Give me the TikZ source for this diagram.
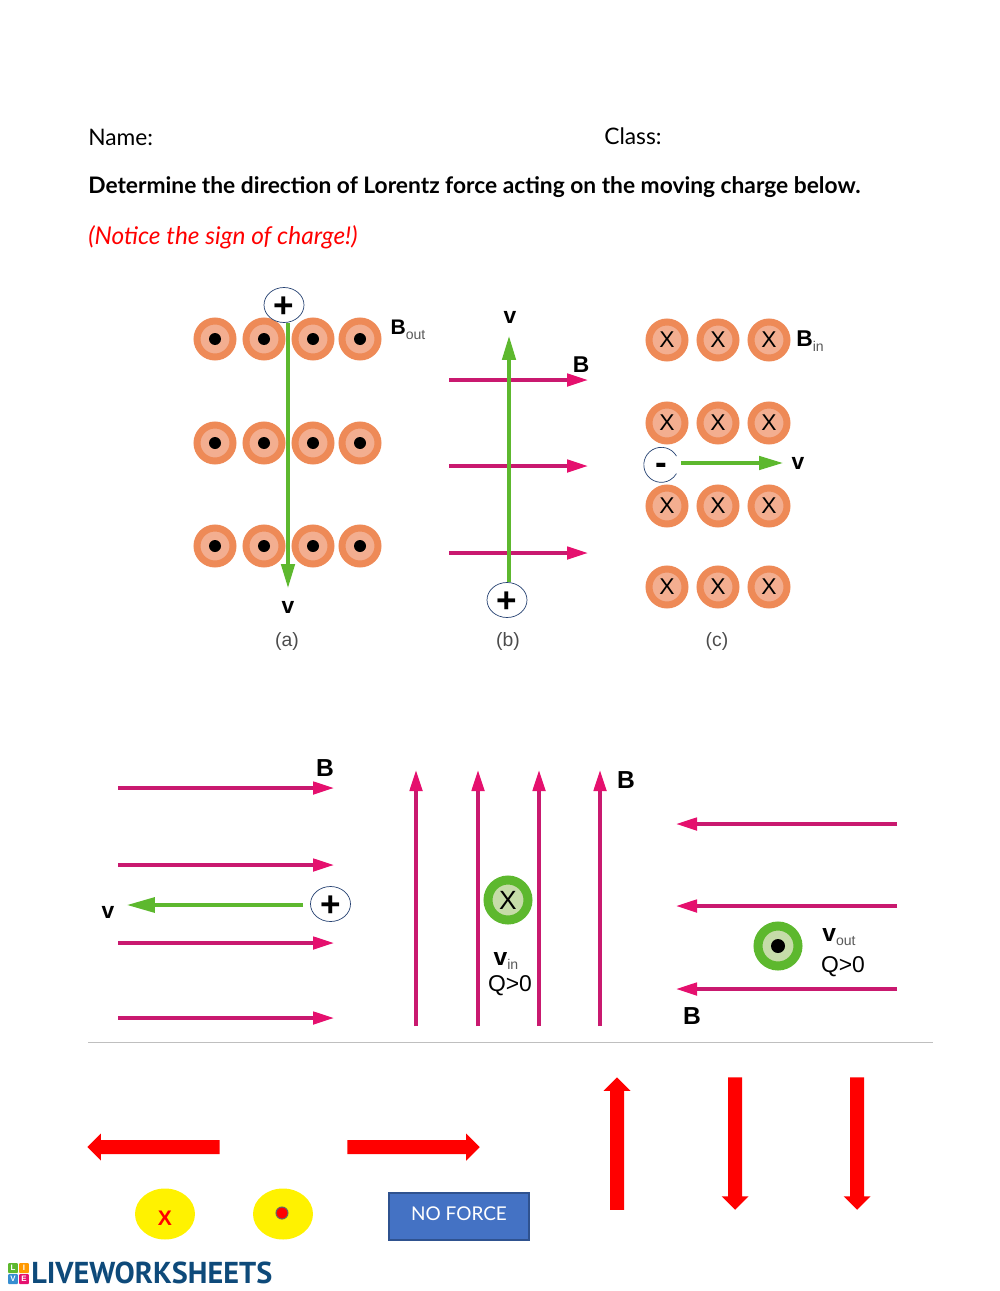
\documentclass[tikz,border=0pt]{standalone}
\usepackage{fontspec}
\setmainfont{Lato}
\setsansfont{Liberation Sans}
\newfontfamily\logofont{PT Sans}
\usepackage{xcolor}
\usetikzlibrary{arrows.meta,shapes.geometric,shapes.arrows}
\definecolor{ring}{HTML}{EE8A57}
\definecolor{core}{HTML}{F3AE90}
\definecolor{lime}{HTML}{5DB82E}
\definecolor{limecore}{HTML}{C6DCA9}
\definecolor{rose}{HTML}{C9196F}
\definecolor{rosehead}{HTML}{E5106E}
\definecolor{sky}{HTML}{4472C4}
\definecolor{skyedge}{HTML}{2F528F}
\definecolor{navy}{HTML}{0E4A7A}
\newcommand{\subtxt}[1]{\raisebox{-2.5pt}{\fontsize{8}{8}\selectfont\mdseries\color{black!65}#1}}
\tikzstyle{dotout}=[circle,draw=ring,fill=core,line width=0.14cm,minimum size=0.72cm,inner sep=0pt,
  path picture={\fill[black] (path picture bounding box.center) circle (0.12cm);}]
\tikzstyle{crossin}=[circle,draw=ring,fill=core,line width=0.14cm,minimum size=0.72cm,inner sep=0pt,
  font=\sffamily\fontsize{13}{13}\selectfont]
\tikzstyle{dotgreen}=[circle,draw=lime,fill=limecore,line width=0.18cm,minimum size=0.8cm,inner sep=0pt,
  path picture={\fill[black] (path picture bounding box.center) circle (0.14cm);}]
\tikzstyle{crossgreen}=[circle,draw=lime,fill=limecore,line width=0.18cm,minimum size=0.8cm,inner sep=0pt,
  font=\sffamily\fontsize{15}{15}\selectfont]
\tikzstyle{charge}=[ellipse,draw=skyedge!80!black,fill=white,thin,minimum width=0.8cm,minimum height=0.7cm,inner sep=0pt,
  font=\sffamily\bfseries\fontsize{20}{20}\selectfont]
\tikzstyle{symbol}=[inner sep=0pt,font=\sffamily\bfseries\fontsize{13}{13}\selectfont]
\tikzstyle{bigsymbol}=[inner sep=0pt,font=\sffamily\bfseries\fontsize{14}{14}\selectfont]
\tikzstyle{caption}=[inner sep=0pt,text=black!70,font=\sffamily\fontsize{11}{11}\selectfont]
\tikzstyle{line}=[inner sep=0pt,anchor=west,font=\fontsize{12.95}{13}\selectfont]
\tikzstyle{field}=[rose,line width=0.065cm,-{Triangle[length=0.42cm,width=0.25cm,color=rosehead]}]
\tikzstyle{speed}=[lime,line width=0.065cm,-{Triangle[length=0.48cm,width=0.27cm]}]
\tikzstyle{push}=[single arrow,fill=red,inner sep=0.133cm,minimum height=2.65cm,minimum width=0.52cm,
  single arrow head extend=0.13cm,single arrow head indent=0pt]
\tikzstyle{spot}=[ellipse,fill=yellow,minimum width=1.2cm,minimum height=1.02cm,inner sep=0pt]
\tikzstyle{tile}=[fill=#1,text=white,minimum size=0.2cm,inner sep=0pt,rounded corners=0.02cm,
  font=\sffamily\bfseries\fontsize{4.5}{4.5}\selectfont]
\begin{document}
\begin{tikzpicture}[x=0.02cm,y=-0.02cm]
  \useasboundingbox (0,0) rectangle (1000,1291);
  \node at ( 88,137) [line] (Name) {Name:};
  \node at (604,136) [line] (Class) {Class:};
  \node at ( 88,187) [line] (Task) {\bfseries Determine the direction of Lorentz force acting on the moving charge below.};
  \node at ( 88,237) [line,text=red,font=\fontsize{13.9}{14}\selectfont] (Notice) {\itshape (Notice the sign of charge!)};

  \node at (215,339) [dotout] (OutA1) {};
  \node at (264,339) [dotout] (OutA2) {};
  \node at (313,339) [dotout] (OutA3) {};
  \node at (360,339) [dotout] (OutA4) {};
  \node at (215,443) [dotout] (OutB1) {};
  \node at (264,443) [dotout] (OutB2) {};
  \node at (313,443) [dotout] (OutB3) {};
  \node at (360,443) [dotout] (OutB4) {};
  \node at (215,546) [dotout] (OutC1) {};
  \node at (264,546) [dotout] (OutC2) {};
  \node at (313,546) [dotout] (OutC3) {};
  \node at (360,546) [dotout] (OutC4) {};
  \node at (284,305) [charge] (PlusA) {\raisebox{-7pt}[0pt][0pt]{+}};
  \node at (408,330) [symbol,font=\sffamily\bfseries\fontsize{12}{12}\selectfont] (Bout) {B\subtxt{out}};
  \node at (288,607) [symbol] (SpeedA) {v};
  \node at (287,641) [caption] (CaptionA) {(a)};
  \coordinate (TipA) at (288,588);
  \draw [speed] (PlusA.south -| TipA) to (TipA);

  \coordinate (FieldB1L) at (449,380);
  \coordinate (FieldB1R) at (588,380);
  \coordinate (FieldB2L) at (449,466);
  \coordinate (FieldB2R) at (588,466);
  \coordinate (FieldB3L) at (449,553);
  \coordinate (FieldB3R) at (588,553);
  \draw [field] (FieldB1L) to (FieldB1R);
  \draw [field] (FieldB2L) to (FieldB2R);
  \draw [field] (FieldB3L) to (FieldB3R);
  \node at (507,600) [charge] (PlusB) {\raisebox{-7pt}[0pt][0pt]{+}};
  \node at (510,317) [symbol] (SpeedB) {v};
  \node at (581,365) [symbol] (LabelB) {B};
  \node at (508,641) [caption] (CaptionB) {(b)};
  \coordinate (TipB) at (509,336);
  \draw [speed] (PlusB.north -| TipB) to (TipB);

  \node at (667,340) [crossin] (InA1) {X};
  \node at (718,340) [crossin] (InA2) {X};
  \node at (769,340) [crossin] (InA3) {X};
  \node at (667,423) [crossin] (InB1) {X};
  \node at (718,423) [crossin] (InB2) {X};
  \node at (769,423) [crossin] (InB3) {X};
  \node at (667,506) [crossin] (InC1) {X};
  \node at (718,506) [crossin] (InC2) {X};
  \node at (769,506) [crossin] (InC3) {X};
  \node at (667,587) [crossin] (InD1) {X};
  \node at (718,587) [crossin] (InD2) {X};
  \node at (769,587) [crossin] (InD3) {X};
  \node at (661,465) [charge,draw=none,minimum width=0.7cm,minimum height=0.7cm] (MinusC) {\raisebox{-5.5pt}[0pt][0pt]{-}};
  \draw [skyedge!80!black,thin] (MinusC.30) arc [start angle=-30,end angle=-330,x radius=17.5,y radius=17.5];
  \node at (810,341) [symbol] (Bin) {B\subtxt{in}};
  \node at (798,463) [symbol] (SpeedC) {v};
  \node at (717,641) [caption] (CaptionC) {(c)};
  \coordinate (TailC) at (681,463);
  \coordinate (TipC) at (783,463);
  \draw [speed] (TailC) to (TipC);

  \coordinate (FieldD1L) at (118,788);
  \coordinate (FieldD1R) at (334,788);
  \coordinate (FieldD2L) at (118,865);
  \coordinate (FieldD2R) at (334,865);
  \coordinate (FieldD3L) at (118,943);
  \coordinate (FieldD3R) at (334,943);
  \coordinate (FieldD4L) at (118,1018);
  \coordinate (FieldD4R) at (334,1018);
  \draw [field] (FieldD1L) to (FieldD1R);
  \draw [field] (FieldD2L) to (FieldD2R);
  \draw [field] (FieldD3L) to (FieldD3R);
  \draw [field] (FieldD4L) to (FieldD4R);
  \node at (330.5,904) [charge] (PlusD) {\raisebox{-7pt}[0pt][0pt]{+}};
  \node at (108,912) [symbol] (SpeedD) {v};
  \node at (325,768) [bigsymbol] (LabelD) {B};
  \coordinate (TailD) at (303,905);
  \coordinate (TipD) at (127,905);
  \draw [speed,-{Triangle[length=0.56cm,width=0.3cm]}] (TailD) to (TipD);

  \coordinate (FieldE1B) at (416,1026);
  \coordinate (FieldE1T) at (416,770);
  \coordinate (FieldE2B) at (478,1026);
  \coordinate (FieldE2T) at (478,770);
  \coordinate (FieldE3B) at (539,1026);
  \coordinate (FieldE3T) at (539,770);
  \coordinate (FieldE4B) at (600,1026);
  \coordinate (FieldE4T) at (600,770);
  \draw [field] (FieldE1B) to (FieldE1T);
  \draw [field] (FieldE2B) to (FieldE2T);
  \draw [field] (FieldE3B) to (FieldE3T);
  \draw [field] (FieldE4B) to (FieldE4T);
  \node at (508,900) [crossgreen] (InE) {X};
  \node at (626,780) [bigsymbol] (LabelE) {B};
  \node at (506,961) [bigsymbol] (SpeedE) {v\subtxt{in}};
  \node at (510,986) [bigsymbol,font=\sffamily\fontsize{13}{13}\selectfont] (ChargeE) {Q>0};

  \coordinate (FieldF1R) at (897,824);
  \coordinate (FieldF1L) at (676,824);
  \coordinate (FieldF2R) at (897,906);
  \coordinate (FieldF2L) at (676,906);
  \coordinate (FieldF3R) at (897,989);
  \coordinate (FieldF3L) at (676,989);
  \draw [field] (FieldF1R) to (FieldF1L);
  \draw [field] (FieldF2R) to (FieldF2L);
  \draw [field] (FieldF3R) to (FieldF3L);
  \node at (778,946) [dotgreen] (OutF) {};
  \node at (839,937) [bigsymbol] (SpeedF) {v\subtxt{out}};
  \node at (843,967) [bigsymbol,font=\sffamily\fontsize{13}{13}\selectfont] (ChargeF) {Q>0};
  \node at (692,1016) [bigsymbol] (LabelF) {B};

  \coordinate (RuleL) at (88,1042);
  \coordinate (RuleR) at (933,1042);
  \draw [black!25] (RuleL) to (RuleR);

  \node at (157,1147) [push,shape border rotate=180] (PushLeft) {};
  \node at (410,1147) [push] (PushRight) {};
  \node at (617,1147) [push,shape border rotate=90] (PushUp) {};
  \node at (735,1140) [push,shape border rotate=270] (PushDownA) {};
  \node at (857,1140) [push,shape border rotate=270] (PushDownB) {};
  \node at (165,1214) [spot] (SpotIn) {};
  \node at (283,1214) [spot] (SpotOut) {};
  \node at (165,1218) [inner sep=0pt,text=red,font=\sffamily\bfseries\fontsize{12}{12}\selectfont] (CrossIn) {X};
  \node at (282,1213) [circle,fill=red,draw=black!60,semithick,minimum size=0.24cm,inner sep=0pt] (DotOut) {};
  \node at (459,1216.5) [rectangle,fill=sky,draw=skyedge,semithick,minimum width=2.8cm,minimum height=0.94cm,inner sep=0pt,text=white,font=\fontsize{10.8}{10.8}\selectfont] (NoForce) {\raisebox{-2.5pt}[0pt][0pt]{NO FORCE}};

  \node at (13,1268) [tile=lime] (LogoL) {L};
  \node at (24,1268) [tile=orange!80!yellow] (LogoI) {I};
  \node at (13,1279) [tile=sky!80!cyan] (LogoV) {V};
  \node at (24,1279) [tile=rosehead] (LogoE) {E};
  \node at (31,1273) [anchor=west,inner sep=0pt,text=navy,font=\logofont\bfseries\fontsize{17.2}{17.2}\selectfont] (Logo) {LIVEWORKSHEETS};
\end{tikzpicture}
\end{document}
